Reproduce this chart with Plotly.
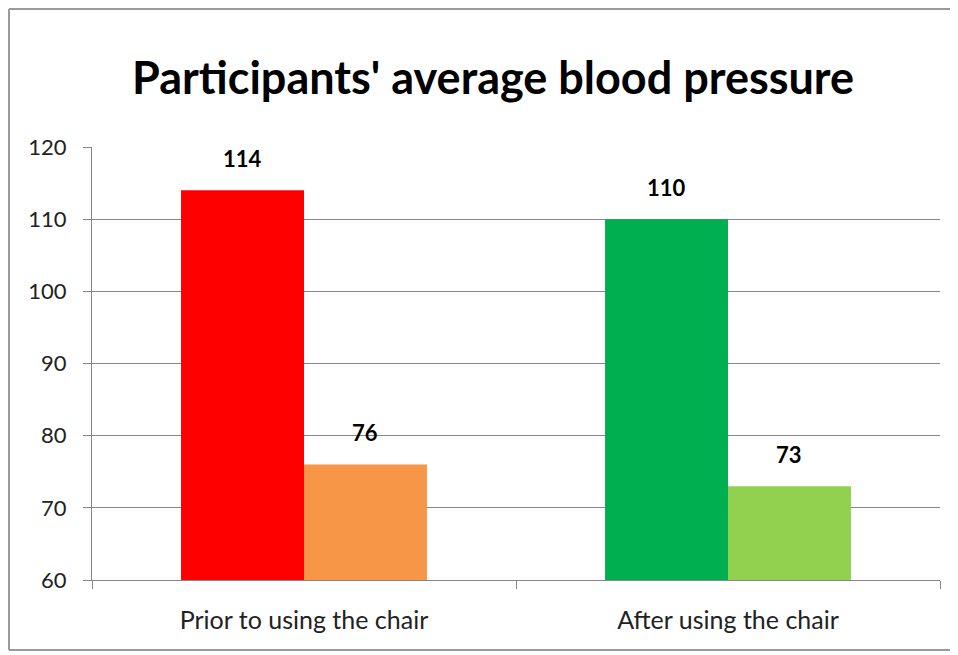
import plotly.graph_objects as go

categories = ["Prior to using the chair", "After using the chair"]
systolic = [114, 110]
diastolic = [76, 73]
systolic_colors = ["#FF0000", "#00B050"]
diastolic_colors = ["#F79646", "#92D050"]
title_text = "Participants' average blood pressure"

# page is rendered with an 8px body margin; compensate so the plot lands where the reference has it
OFF = 8
W, H = 958 - OFF, 655 - OFF
ML, MR, MT, MB = 92 - OFF, 18, 147 - OFF, 75
FONT = "Lato, Calibri, Carlito, sans-serif"
BARGAP = 0.42

fig = go.Figure()
for name, vals, cols in [("Systolic", systolic, systolic_colors),
                         ("Diastolic", diastolic, diastolic_colors)]:
    fig.add_trace(go.Bar(
        x=categories, y=vals, name=name,
        marker=dict(color=cols, line=dict(width=0)),
        hoverinfo="x+y",
    ))

pw = W - ML - MR
ph = H - MT - MB
cat_px = pw / len(categories)
bar_px = cat_px * (1 - BARGAP) / 2

# bold value labels above each bar
for k, (name, vals) in enumerate([("Systolic", systolic), ("Diastolic", diastolic)]):
    sign = -1 if k == 0 else 1
    for c, v in zip(categories, vals):
        fig.add_annotation(x=c, y=v, xref="x", yref="y", text="<b>%d</b>" % v,
                           showarrow=False, xshift=sign * bar_px / 2, yshift=32,
                           yanchor="middle",
                           font=dict(size=22, color="#000000", family=FONT))

def px2x(p):
    return (p - OFF - ML) / pw
def py2y(p):
    return (H + OFF - MB - p) / ph

# chart-area frame: left, top and bottom edges (right edge lies outside the picture)
frame = dict(color="#9a9a9a", width=2)
xl, xr = px2x(9), px2x(990)
yt, yb = py2y(9), py2y(650)
for x0, y0, x1, y1 in [(xl, yb, xl, yt), (xl, yt, xr, yt), (xl, yb, xr, yb)]:
    fig.add_shape(type="line", xref="paper", yref="paper",
                  x0=x0, y0=y0, x1=x1, y1=y1, line=frame, layer="below")

fig.update_layout(
    width=W, height=H,
    margin=dict(l=ML, r=MR, t=MT, b=MB),
    paper_bgcolor="white", plot_bgcolor="white",
    barmode="group", bargap=BARGAP, bargroupgap=0,
    showlegend=False,
    title=dict(text="<b>" + title_text + "</b>", x=(493 - OFF) / W, xanchor="center",
               y=1 - (78 - OFF) / H, yanchor="middle",
               font=dict(size=45, color="#000000", family=FONT)),
    font=dict(family=FONT, color="#222222"),
)
fig.update_yaxes(range=[60, 120], dtick=10, showgrid=True, gridcolor="#878787",
                 gridwidth=1, showline=True, linecolor="#878787", linewidth=1,
                 ticks="outside", ticklen=8, tickcolor="#878787",
                 tickfont=dict(size=22, family=FONT, color="#222222"),
                 ticklabelstandoff=12, zeroline=False)
fig.update_xaxes(showline=True, linecolor="#878787", linewidth=1,
                 ticks="outside", ticklen=8, tickcolor="#878787",
                 tickson="boundaries",
                 tickfont=dict(size=25, family=FONT, color="#222222"),
                 ticklabelstandoff=18)

fig.write_html("out.html", config={"displayModeBar": False})
